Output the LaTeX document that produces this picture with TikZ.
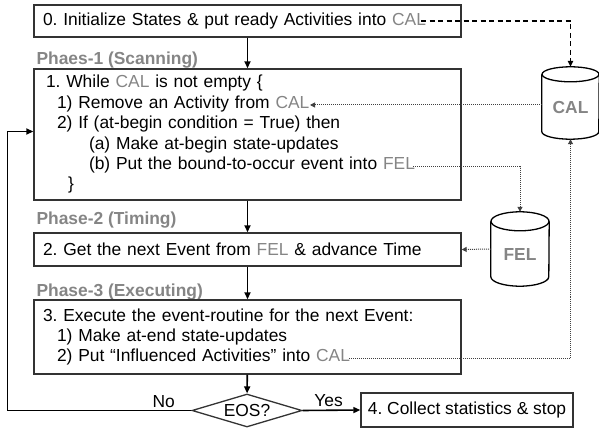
\documentclass[tikz,border=0pt]{standalone}
\usepackage{fontspec}
\setmainfont{Liberation Sans}
\usetikzlibrary{arrows.meta,shapes.geometric}
\definecolor{hl}{HTML}{858585}
\definecolor{edge}{HTML}{333333}
\definecolor{dotc}{HTML}{404040}
\newcommand{\hl}[1]{\textcolor{hl}{#1}}
\frenchspacing
\tikzset{
  every node/.style={font=\fontsize{17.4}{20.4}\selectfont, text=black},
  stepbox/.style={draw=edge, line width=1.4pt, rectangle, minimum width=427,
    text width=409, inner xsep=9pt, inner ysep=0pt, align=left},
  phase/.style={anchor=base west, text=hl, font=\fontsize{17.4}{20.4}\selectfont\bfseries},
  flow/.style={line width=1.6pt, draw=black, -{Triangle[length=7pt,width=6pt]}},
  dots/.style={line width=1pt, draw=dotc, dash pattern=on 1pt off 1pt, -{Triangle[length=5pt,width=5pt]}},
  dashline/.style={line width=1.3pt, draw=black, dash pattern=on 5pt off 3.5pt, -{Triangle[length=6pt,width=5.5pt]}},
  store/.style={rectangle, draw=none, minimum width=57, inner sep=0pt},
  cylline/.style={draw=black, line width=1.3pt},
  storetext/.style={text=hl, font=\fontsize{17.4}{20.4}\selectfont\bfseries},
}
% outline of a cylinder around a store node: #1 node, #2 end half width, #3 end half height
\newcommand{\drumoutline}[3]{%
  \draw[cylline] ([yshift=-#3pt]#1.north) ellipse [x radius=#2, y radius=#3];
  \draw[cylline] ([yshift=-#3pt]#1.north west) -- ([yshift=#3pt]#1.south west)
    arc[start angle=180, end angle=0, x radius=#2, y radius=#3]
    -- ([yshift=-#3pt]#1.north east);
}
\begin{document}
\begin{tikzpicture}[x=1pt, y=-1pt]
\useasboundingbox (0,0) rectangle (599,430);

% main steps
\node[stepbox, minimum height=32] (s0) at (247.5,21)
  {0. Initialize States \& put ready Activities into \hl{CAL}};
\node[phase] (p1) at (33,65) {Phaes-1 (Scanning)};
\node[stepbox, minimum height=131] (s1) at (247.5,134.5)
  {\hspace*{3pt}1. While \hl{CAL} is not empty \{\\
   \hspace*{14pt}1) Remove an Activity from \hl{CAL}\\
   \hspace*{14pt}2) If (at-begin condition = True) then\\
   \hspace*{46pt}(a) Make at-begin state-updates\\
   \hspace*{46pt}(b) Put the bound-to-occur event into \hl{FEL}\\
   \hspace*{25pt}\}};
\node[phase] (p2) at (33,225) {Phase-2 (Timing)};
\node[stepbox, minimum height=33] (s2) at (247.5,249.5)
  {2. Get the next Event from \hl{FEL} \& advance Time};
\node[phase] (p3) at (33,296) {Phase-3 (Executing)};
\node[stepbox, minimum height=74] (s3) at (247.5,337)
  {3. Execute the event-routine for the next Event:\\
   \hspace*{14pt}1) Make at-end state-updates\\
   \hspace*{14pt}2) Put \textquotedblleft Influenced Activities\textquotedblright{} into \hl{CAL}};
\node[diamond, draw=edge, line width=1.3pt, minimum width=110, minimum height=33,
      aspect=3.3, inner sep=0pt] (eos) at (247,410.5) {EOS?};
\node[draw=edge, line width=1.4pt, minimum width=212, minimum height=34, inner sep=0pt]
  (s4) at (467,410) {4. Collect statistics \& stop};

% stores
\node[store, minimum height=72, label={[storetext, yshift=-5pt]center:CAL}] (cal) at (570.5,103) {};
\drumoutline{cal}{28.5}{7.5}
\node[store, minimum height=74, minimum width=58, label={[storetext, yshift=-6pt]center:FEL}] (fel) at (520,249) {};
\drumoutline{fel}{29}{9.5}

% control flow
\draw[flow] (s0) -- (s1);
\draw[flow] (s1) -- (s2);
\draw[flow] (s2) -- (s3);
\draw[flow] (s3) -- (eos);
\draw[flow] (eos.east) -- node[above, pos=0.45, yshift=-1pt] {Yes} (s4.west);
\draw[flow] (eos.west) -- node[above, pos=0.15, yshift=-1pt] {No} ++(-184,0)
  |- ([yshift=3pt]s1.west);

% data flow to and from the lists
\coordinate (c0) at (421,21);
\coordinate (c1in) at (310,105);
\coordinate (c1out) at (413,167);
\coordinate (c3out) at (349,358);
\draw[dashline] (c0) -| (cal.north);
\draw[dots] (cal.west |- c1in) -- (c1in);
\draw[dots] (c1out) -| (fel.north);
\draw[dots] (fel.west) -- (s2.east);
\draw[dots] (c3out) -| (cal.south);
\end{tikzpicture}
\end{document}
